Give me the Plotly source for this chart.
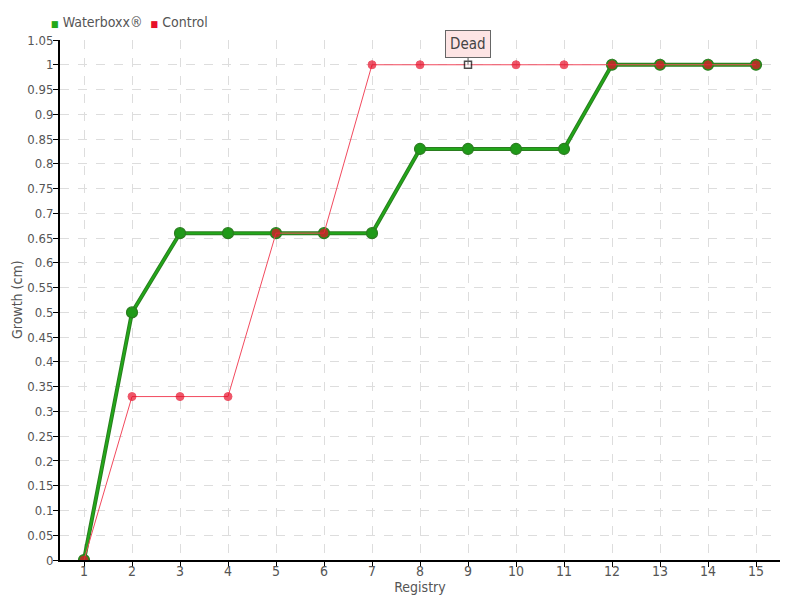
import plotly.graph_objects as go

registry = list(range(1, 16))
waterboxx = [0, 0.5, 0.66, 0.66, 0.66, 0.66, 0.66, 0.83, 0.83, 0.83, 0.83, 1, 1, 1, 1]
control = [0, 0.33, 0.33, 0.33, 0.66, 0.66, 1, 1, 1, 1, 1, 1, 1, 1, 1]
y_ticks = [round(i * 0.05, 2) for i in range(22)]
y_tick_labels = [("%g" % v) for v in y_ticks]
dead_index = 9

FONT = "DejaVu Sans Condensed"
GREEN = "#22a81a"
GREEN_DARK = "#2a7d1f"
GREEN_MARK = "#1f9a18"
RED = "#e8102a"

fig = go.Figure()

# green line: darker edge + lighter core
fig.add_trace(go.Scatter(
    x=registry, y=waterboxx, mode="lines", name="Waterboxx®",
    line=dict(color=GREEN_DARK, width=4),
    showlegend=False, hoverinfo="skip",
))
fig.add_trace(go.Scatter(
    x=registry, y=waterboxx, mode="lines+markers", name="Waterboxx®",
    line=dict(color=GREEN, width=2),
    marker=dict(color=GREEN_MARK, size=11, line=dict(color=GREEN_DARK, width=1.2)),
    showlegend=False, hoverinfo="skip",
))

ctrl_sym = ["square" if r == dead_index else "circle" for r in registry]
ctrl_col = ["white" if r == dead_index else RED for r in registry]
ctrl_size = [7 if r == dead_index else 8 for r in registry]
ctrl_lcol = ["black" if r == dead_index else RED for r in registry]
ctrl_lw = [1.5 if r == dead_index else 1 for r in registry]
fig.add_trace(go.Scatter(
    x=registry, y=control, mode="lines+markers", name="Control",
    line=dict(color="#f24a5e", width=1),
    marker=dict(color=ctrl_col, size=ctrl_size, symbol=ctrl_sym,
                line=dict(color=ctrl_lcol, width=ctrl_lw)),
    showlegend=False, hoverinfo="skip",
))

# legend as text
fig.add_annotation(
    xref="paper", yref="paper", x=-0.015, y=1.0, yshift=18,
    xanchor="left", yanchor="middle", showarrow=False,
    text=("<span style='color:%s;font-size:9px'>■</span> Waterboxx®  "
          "<span style='color:%s;font-size:9px'>■</span> Control") % (GREEN, RED),
    font=dict(family=FONT, size=14, color="#555"),
)

# y axis title
fig.add_annotation(
    xref="paper", yref="paper", x=0, y=0.5, xshift=-43,
    xanchor="center", yanchor="middle", showarrow=False, textangle=-90,
    text="Growth (cm)", font=dict(family=FONT, size=14, color="#555"),
)

fig.add_annotation(
    x=dead_index, y=control[dead_index - 1], text="Dead",
    showarrow=True, arrowhead=0, arrowcolor="#666", arrowwidth=1,
    ax=0, ay=-21, bgcolor="#fde4e4", bordercolor="#666", borderwidth=1,
    borderpad=4, font=dict(family=FONT, size=15, color="#444"),
)

fig.update_layout(
    width=800, height=600,
    margin=dict(l=52, r=28, t=32, b=48, autoexpand=False),
    paper_bgcolor="white", plot_bgcolor="white",
    font=dict(family=FONT, size=14, color="#555"),
    showlegend=False,
)
fig.update_xaxes(
    range=[0.5, 15.5], tickmode="array", tickvals=registry,
    ticktext=[str(r) for r in registry], automargin=False,
    showline=True, linecolor="black", linewidth=2,
    ticks="outside", ticklen=5, tickcolor="black",
    ticklabelstandoff=-8,
    showgrid=True, gridcolor="#dddddd", griddash="dash", gridwidth=1,
    zeroline=False,
    title=dict(text="Registry", standoff=0, font=dict(size=14, color="#555")),
)
fig.update_yaxes(
    range=[0, 1.05], tickmode="array", tickvals=y_ticks, ticktext=y_tick_labels,
    automargin=False,
    showline=True, linecolor="black", linewidth=2,
    ticks="outside", ticklen=5, tickcolor="black",
    ticklabelstandoff=-3,
    tickfont=dict(size=13),
    showgrid=True, gridcolor="#dddddd", griddash="dash", gridwidth=1,
    zeroline=False,
)

fig.write_html("out.html")
